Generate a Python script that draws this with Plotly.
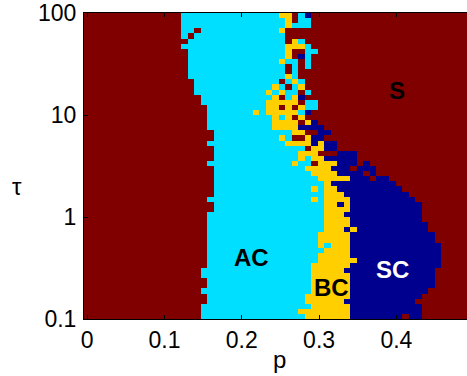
import plotly.graph_objects as go

# ---- data ----
# phase codes: R = S (red), C = AC (cyan), Y = BC (yellow), B = SC (dark blue)
PHASE_CODES = {"R": 0, "C": 1, "Y": 2, "B": 3}

# p grid (cell centres) and log10(tau) grid (cell centres, top row first)
P_VALUES = [round(k * 0.0084, 4) for k in range(59)]
LOG_TAU_VALUES = [round(2 - 0.05 * (i + 0.5), 3) for i in range(60)]

# run-length description of each tau row (top = tau 100 ... bottom = tau 0.1)
ROW_RUNS = [
    "R15 C15 Y2 R1 C1 B1 R24",
    "R15 C16 Y1 R1 C2 R24",
    "R15 C16 Y1 C3 R24",
    "R15 C2 R1 C12 Y1 R28",
    "R15 C1 R1 C14 R28",
    "R16 C15 R1 Y1 C1 R25",
    "R15 C16 Y3 C1 R24",
    "R16 C15 Y1 R2 C2 R23",
    "R16 C15 Y1 R1 B1 C1 R24",
    "R16 C14 Y1 C2 R1 C1 R24",
    "R16 C15 R1 C1 R1 C1 R24",
    "R16 C15 R1 C1 R26",
    "R16 C15 Y1 C1 R26",
    "R17 C13 R1 C1 Y1 C1 R25",
    "R17 C12 Y1 C1 R1 C1 Y1 R25",
    "R17 C11 Y1 C1 Y1 C2 R1 C1 R24",
    "R18 C11 Y1 R1 C1 Y1 B1 R25",
    "R18 C10 Y5 R1 C2 R23",
    "R19 C9 Y2 R1 Y1 R1 Y1 C2 R23",
    "R19 C7 Y1 C1 Y5 C1 B1 R24",
    "R19 C10 Y1 C1 Y1 R1 Y1 R25",
    "R19 C10 Y4 R1 Y1 B1 R23",
    "R19 C10 Y4 B4 R22",
    "R20 C12 Y2 R2 B2 R21",
    "R20 C10 Y1 C1 R2 Y1 B2 R22",
    "R19 C12 Y4 B1 Y1 B2 R20",
    "R20 C14 R1 Y2 B2 R20",
    "R20 C13 Y3 R3 B3 R17",
    "R20 C13 Y1 C1 Y2 B5 R17",
    "R19 C13 Y1 C2 R1 Y3 B3 R1 B1 R15",
    "R20 C14 Y4 B3 R1 B3 R14",
    "R20 C15 Y4 B4 R1 B1 R14",
    "R20 C16 Y5 B3 R1 B2 R12",
    "R20 C17 Y1 B10 R11",
    "R20 C15 Y1 C1 Y2 B10 R10",
    "R20 C17 Y3 B10 R9",
    "R19 C16 Y1 C1 Y4 B10 R8",
    "R20 C17 Y2 B1 Y1 B11 R7",
    "R20 C17 Y4 B11 R7",
    "R19 C18 Y3 B12 R7",
    "R19 C18 Y4 B11 R7",
    "R19 C18 Y4 B12 R6",
    "R19 C18 Y3 B1 Y1 B11 R6",
    "R19 C17 Y5 B13 R5",
    "R19 C17 Y5 B13 R5",
    "R19 C17 Y1 C1 Y3 B14 R4",
    "R19 C18 Y4 B14 R4",
    "R19 C17 Y5 B14 R4",
    "R19 C17 Y6 B13 R4",
    "R19 C16 Y6 B14 R4",
    "R18 C17 Y5 B14 R5",
    "R18 C17 Y6 B13 R5",
    "R19 C16 Y6 B13 R5",
    "R19 C16 Y6 B13 R5",
    "R18 C17 Y6 B12 R6",
    "R19 C15 Y7 B11 R7",
    "R19 C15 Y6 B11 R8",
    "R18 C17 Y6 B11 R7",
    "R18 C15 Y8 B11 R7",
    "R18 C16 Y7 B8 R1 B2 R7",
]

PHASE_COLORS = ["#800000", "#00DFFF", "#FFCF00", "#00008F"]

X_TICKS = [0, 0.1, 0.2, 0.3, 0.4]
X_TICK_TEXT = ["0", "0.1", "0.2", "0.3", "0.4"]
Y_TICKS = [-1, 0, 1, 2]
Y_TICK_TEXT = ["0.1", "1", "10", "100"]

LABELS = ["S", "AC", "BC", "SC"]
LABEL_P = [0.4007, 0.2129, 0.3157, 0.3956]
LABEL_LOGTAU = [1.233, -0.407, -0.697, -0.522]
LABEL_COLORS = ["black", "black", "black", "white"]

X_TITLE = "p"
Y_TITLE = "τ"


def expand(runs):
    row = []
    for token in runs.split():
        row += [PHASE_CODES[token[0]]] * int(token[1:])
    assert len(row) == len(P_VALUES), (runs, len(row))
    return row


z = [expand(r) for r in ROW_RUNS]

colorscale = []
n = len(PHASE_COLORS)
for i, c in enumerate(PHASE_COLORS):
    colorscale.append([i / n, c])
    colorscale.append([(i + 1) / n, c])

fig = go.Figure(
    go.Heatmap(
        x=P_VALUES,
        y=LOG_TAU_VALUES,
        z=z,
        zmin=-0.5,
        zmax=3.5,
        colorscale=colorscale,
        showscale=False,
        hoverinfo="skip",
    )
)

FONT = "Liberation Sans, Arial, Helvetica, sans-serif"

for txt, px, py, col in zip(LABELS, LABEL_P, LABEL_LOGTAU, LABEL_COLORS):
    fig.add_annotation(
        x=px, y=py, text="<b>%s</b>" % txt, showarrow=False,
        font=dict(family=FONT, size=24, color=col),
        xanchor="center", yanchor="middle", yshift=1,
    )

# axis titles as annotations for exact placement
fig.add_annotation(
    x=0.2485, xref="x", y=0, yref="paper", text=X_TITLE, showarrow=False,
    font=dict(family=FONT, size=24, color="black"),
    xanchor="center", yanchor="top", yshift=-25,
)
fig.add_annotation(
    x=0, xref="paper", y=0.30, yref="y", text=Y_TITLE, showarrow=False,
    font=dict(family=FONT, size=24, color="black"),
    xanchor="center", yanchor="middle", xshift=-67,
)

fig.update_layout(
    width=467,
    height=376,
    margin=dict(l=84, r=0, t=13, b=57, autoexpand=False),
    paper_bgcolor="white",
    plot_bgcolor="white",
    font=dict(family=FONT, size=23, color="black"),
    showlegend=False,
)

fig.update_xaxes(
    range=[-0.0042, 0.4914],
    tickvals=X_TICKS,
    ticktext=X_TICK_TEXT,
    ticks="inside",
    ticklen=4,
    tickcolor="black",
    showline=True,
    linecolor="black",
    linewidth=1,
    mirror="ticks",
    showgrid=False,
    zeroline=False,
    automargin=False,
    tickfont=dict(family=FONT, size=23, color="black"),
)
fig.update_yaxes(
    range=[-1, 2],
    tickvals=Y_TICKS,
    ticktext=Y_TICK_TEXT,
    ticks="inside",
    ticklen=4,
    tickcolor="black",
    showline=True,
    linecolor="black",
    linewidth=1,
    showgrid=False,
    zeroline=False,
    automargin=False,
    ticklabelstandoff=2,
    tickfont=dict(family=FONT, size=23, color="black"),
)

fig.write_html(
    "out.html",
    config={"displayModeBar": False},
    post_script="document.body.style.margin='0';document.body.style.overflow='hidden';",
)
